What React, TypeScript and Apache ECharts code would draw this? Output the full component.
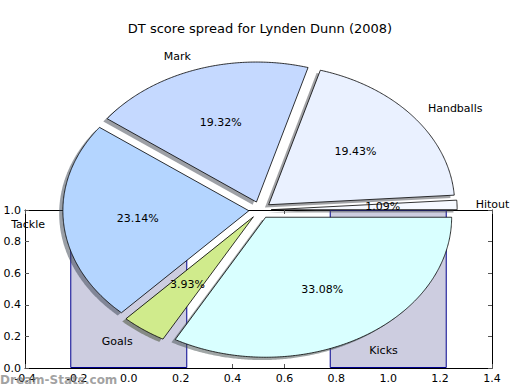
import React, { useEffect, useRef } from 'react';
import * as echarts from 'echarts';

const chartTitle = 'DT score spread for Lynden Dunn (2008)';
const categories = ['Hitout', 'Handballs', 'Mark', 'Tackle', 'Goals', 'Kicks'];
const shares = [1.09, 19.43, 19.32, 23.14, 3.93, 33.08];
const sliceColors = ['#f6f9ff', '#eaf1ff', '#c5d9ff', '#b4d5ff', '#d0eb8c', '#d9ffff'];
const barPositions = [0, 1];
const barHeights = [1, 1];
const xMin = -0.4;
const xMax = 1.4;
const yMin = 0;
const yMax = 1;
const tickStep = 0.2;
const watermark = 'Dream-Stats.com';

// pie geometry (pixels)
const CX = 260;
const CY = 210;
const SX = 186;
const SY = 140;
const EXPLODE = 0.06;
const LABEL_DIST = 1.1;
const PCT_DIST = 0.6;
const FONT = 'DejaVu Sans';

function shadowOf(hex: string) {
  const r = parseInt(hex.slice(1, 3), 16);
  const g = parseInt(hex.slice(3, 5), 16);
  const b = parseInt(hex.slice(5, 7), 16);
  return `rgba(${Math.round(r * 0.3)},${Math.round(g * 0.3)},${Math.round(b * 0.3)},0.5)`;
}

const fmt = (v: number) => (Math.round(v * 10) / 10).toFixed(1);

export default function App() {
  const ref = useRef<HTMLDivElement>(null);
  useEffect(() => {
    if (!ref.current) return;
    const chart = echarts.init(ref.current, null, { renderer: 'svg' });
    const total = shares.reduce((a, b) => a + b, 0);
    const tickCommon = {
      show: true,
      inside: true,
      length: 4,
      lineStyle: { color: '#555', width: 1 },
    };
    const lineCommon = { show: true, onZero: false, lineStyle: { color: '#000', width: 1 } };
    const option: any = {
      animation: false,
      backgroundColor: '#ffffff',
      title: {
        text: chartTitle,
        left: 'center',
        top: 17,
        textStyle: { fontFamily: FONT, fontSize: 13, fontWeight: 'normal', color: '#000' },
      },
      grid: { left: 25, top: 210, right: 28, bottom: 22, containLabel: false },
      xAxis: [
        {
          type: 'value',
          min: xMin,
          max: xMax,
          interval: tickStep,
          position: 'bottom',
          axisLine: lineCommon,
          axisTick: tickCommon,
          axisLabel: { formatter: fmt, fontFamily: FONT, fontSize: 11, color: '#000', margin: 5 },
          splitLine: { show: false },
        },
        {
          type: 'value',
          min: xMin,
          max: xMax,
          interval: tickStep,
          position: 'top',
          axisLine: lineCommon,
          axisTick: tickCommon,
          axisLabel: { show: false },
          splitLine: { show: false },
        },
      ],
      yAxis: [
        {
          type: 'value',
          min: yMin,
          max: yMax,
          interval: tickStep,
          position: 'left',
          axisLine: lineCommon,
          axisTick: tickCommon,
          axisLabel: { formatter: fmt, fontFamily: FONT, fontSize: 11, color: '#000', margin: 4 },
          splitLine: { show: false },
        },
        {
          type: 'value',
          min: yMin,
          max: yMax,
          interval: tickStep,
          position: 'right',
          axisLine: lineCommon,
          axisTick: tickCommon,
          axisLabel: { show: false },
          splitLine: { show: false },
        },
      ],
      series: [
        {
          type: 'bar',
          xAxisIndex: 0,
          yAxisIndex: 0,
          barWidth: 117,
          z: 2,
          data: barPositions.map((x, i) => [x, barHeights[i]]),
          itemStyle: { color: '#cdcde0', borderColor: '#00008f', borderWidth: 1 },
        },
        {
          type: 'custom',
          coordinateSystem: 'none',
          z: 5,
          data: shares.map((v, i) => [i, v]),
          renderItem: (params: any, api: any) => {
            const i = params.dataIndex;
            const value = api.value(1);
            let start = 0;
            for (let k = 0; k < i; k++) start += shares[k];
            const t1 = (start / total) * 360;
            const t2 = ((start + value) / total) * 360;
            const tm = (((t1 + t2) / 2) * Math.PI) / 180;
            const c = Math.cos(tm);
            const s = Math.sin(tm);
            const ax = CX + EXPLODE * SX * c;
            const ay = CY - EXPLODE * SY * s;
            const pts: number[][] = [[ax, ay]];
            const n = Math.max(2, Math.ceil((t2 - t1) / 0.5));
            for (let j = 0; j <= n; j++) {
              const th = ((t1 + ((t2 - t1) * j) / n) * Math.PI) / 180;
              pts.push([ax + SX * Math.cos(th), ay - SY * Math.sin(th)]);
            }
            const sh = pts.map((p) => [p[0] - 0.02 * SX, p[1] + 0.02 * SY]);
            const color = sliceColors[i];
            return {
              type: 'group',
              children: [
                {
                  type: 'polygon',
                  z2: 0,
                  shape: { points: sh },
                  style: { fill: shadowOf(color), stroke: null },
                },
                {
                  type: 'polygon',
                  z2: 10,
                  shape: { points: pts },
                  style: { fill: color, stroke: '#000', lineWidth: 0.8 },
                },
                {
                  type: 'text',
                  z2: 20,
                  style: {
                    text: value.toFixed(2) + '%',
                    x: ax + PCT_DIST * SX * c,
                    y: ay - PCT_DIST * SY * s,
                    align: 'center',
                    verticalAlign: 'middle',
                    fill: '#000',
                    fontFamily: FONT,
                    fontSize: 11,
                  },
                },
                {
                  type: 'text',
                  z2: 20,
                  style: {
                    text: categories[i],
                    x: ax + LABEL_DIST * SX * c,
                    y: ay - LABEL_DIST * SY * s,
                    align: c > 0 ? 'left' : 'right',
                    verticalAlign: 'middle',
                    fill: '#000',
                    fontFamily: FONT,
                    fontSize: 11,
                  },
                },
              ],
            };
          },
        },
      ],
      graphic: [
        {
          type: 'text',
          left: 0,
          top: 374,
          z: 100,
          style: {
            text: watermark,
            fill: 'rgba(120,120,120,0.7)',
            fontFamily: FONT,
            fontSize: 12,
            fontWeight: 'bold',
          },
        },
      ],
    };
    chart.setOption(option);
    return () => chart.dispose();
  }, []);
  return (
    <div
      ref={ref}
      style={{ position: 'fixed', left: 0, top: 0, width: 520, height: 390, background: '#fff' }}
    />
  );
}
